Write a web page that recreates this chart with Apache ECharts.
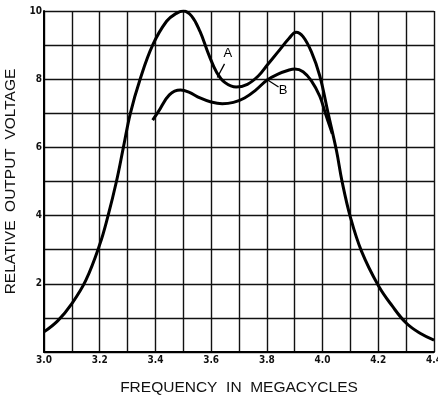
<!DOCTYPE html>
<html>
<head>
<meta charset="utf-8">
<script src="https://cdn.jsdelivr.net/npm/echarts@6/dist/echarts.min.js"></script>
<style>
  html, body { margin: 0; padding: 0; background: #fff; }
  #chart { width: 438px; height: 398px; }
</style>
</head>
<body>
<div id="chart"></div>
<script>
// curve A
const freqA = [3.00, 3.05, 3.10, 3.15, 3.20, 3.23, 3.26, 3.285, 3.31, 3.345, 3.39, 3.44, 3.475, 3.50,
  3.53, 3.56, 3.59, 3.62, 3.65, 3.69, 3.73, 3.77, 3.80, 3.84, 3.88, 3.905, 3.93, 3.96, 3.99,
  4.02, 4.05, 4.07, 4.10, 4.14, 4.20, 4.25, 4.30, 4.35, 4.40];
const voltA = [0.59, 0.92, 1.42, 2.1, 3.15, 4.0, 5.0, 6.0, 7.0, 8.0, 9.0, 9.7, 9.93, 10.0,
  9.85, 9.4, 8.75, 8.2, 7.9, 7.77, 7.85, 8.1, 8.4, 8.8, 9.2, 9.38, 9.25, 8.8, 8.1,
  7.0, 5.9, 5.0, 3.95, 2.95, 1.95, 1.35, 0.85, 0.55, 0.35];

// curve B
const freqB = [3.39, 3.41, 3.45, 3.49, 3.52, 3.56, 3.60, 3.64, 3.68, 3.72, 3.76, 3.80, 3.84,
  3.88, 3.90, 3.93, 3.96, 3.99, 4.01, 4.035];
const voltB = [6.8, 7.04, 7.54, 7.68, 7.62, 7.45, 7.33, 7.28, 7.32, 7.45, 7.68, 7.97, 8.15,
  8.27, 8.3, 8.22, 7.95, 7.5, 7.0, 6.4];

// curve labels: [x, y] of the letter, then the leader line end on the curve
const labelA = { text: "A", at: [3.66, 8.77], from: [3.648, 8.45], to: [3.622, 8.05] };
const labelB = { text: "B", at: [3.858, 7.68], from: [3.842, 7.77], to: [3.80, 7.99] };

const xTicks = { min: 3.0, max: 4.4, step: 0.2 };
const yTicks = { min: 0, max: 10, step: 2 };

const pairs = (xs, ys) => xs.map((x, i) => [x, ys[i]]);

const chart = echarts.init(document.getElementById("chart"));

const tickFont = {
  fontFamily: "DejaVu Sans Condensed, DejaVu Sans, sans-serif",
  fontWeight: "bold",
  fontSize: 10,
  color: "#111",
};
const titleFont = {
  fontFamily: "Liberation Sans, Arial, sans-serif",
  fontSize: 15.5,
  color: "#111",
};
const gridLine = { show: true, lineStyle: { color: "#111", width: 1.4 } };

function curve(name, xs, ys, lbl) {
  return {
    name: name,
    type: "line",
    data: pairs(xs, ys),
    smooth: 0.4,
    showSymbol: false,
    lineStyle: { color: "#000", width: 3 },
    silent: true,
    markPoint: {
      symbol: "circle",
      symbolSize: 0,
      label: { show: true, formatter: lbl.text, color: "#000", fontSize: 13, fontFamily: "Liberation Sans, sans-serif" },
      data: [{ coord: lbl.at }],
    },
    markLine: {
      symbol: "none",
      silent: true,
      label: { show: false },
      lineStyle: { color: "#000", width: 1.3, type: "solid" },
      data: [[{ coord: lbl.from }, { coord: lbl.to }]],
    },
  };
}

chart.setOption({
  animation: false,
  backgroundColor: "#fff",
  grid: { left: 44, right: 4, top: 11, bottom: 46, containLabel: false, outerBoundsMode: "none" },
  xAxis: {
    type: "value",
    min: xTicks.min,
    max: xTicks.max,
    interval: xTicks.step,
    name: "FREQUENCY  IN  MEGACYCLES",
    nameLocation: "middle",
    nameGap: 28,
    nameTextStyle: titleFont,
    axisLine: { show: true, lineStyle: { color: "#000", width: 2 } },
    axisTick: { show: false },
    axisLabel: { ...tickFont, margin: 3, formatter: (v) => v.toFixed(1) },
    splitLine: gridLine,
    minorTick: { show: false, splitNumber: 2 },
    minorSplitLine: gridLine,
  },
  yAxis: {
    type: "value",
    min: yTicks.min,
    max: yTicks.max,
    interval: yTicks.step,
    name: "RELATIVE  OUTPUT  VOLTAGE",
    nameLocation: "middle",
    nameGap: 19,
    nameRotate: 90,
    nameTextStyle: titleFont,
    axisLine: { show: true, lineStyle: { color: "#000", width: 2 } },
    axisTick: { show: false },
    axisLabel: { ...tickFont, margin: 2, formatter: (v) => (v === 0 ? "" : String(v)) },
    splitLine: gridLine,
    minorTick: { show: false, splitNumber: 2 },
    minorSplitLine: gridLine,
  },
  series: [
    curve("A", freqA, voltA, labelA),
    curve("B", freqB, voltB, labelB),
  ],
});
</script>
</body>
</html>
